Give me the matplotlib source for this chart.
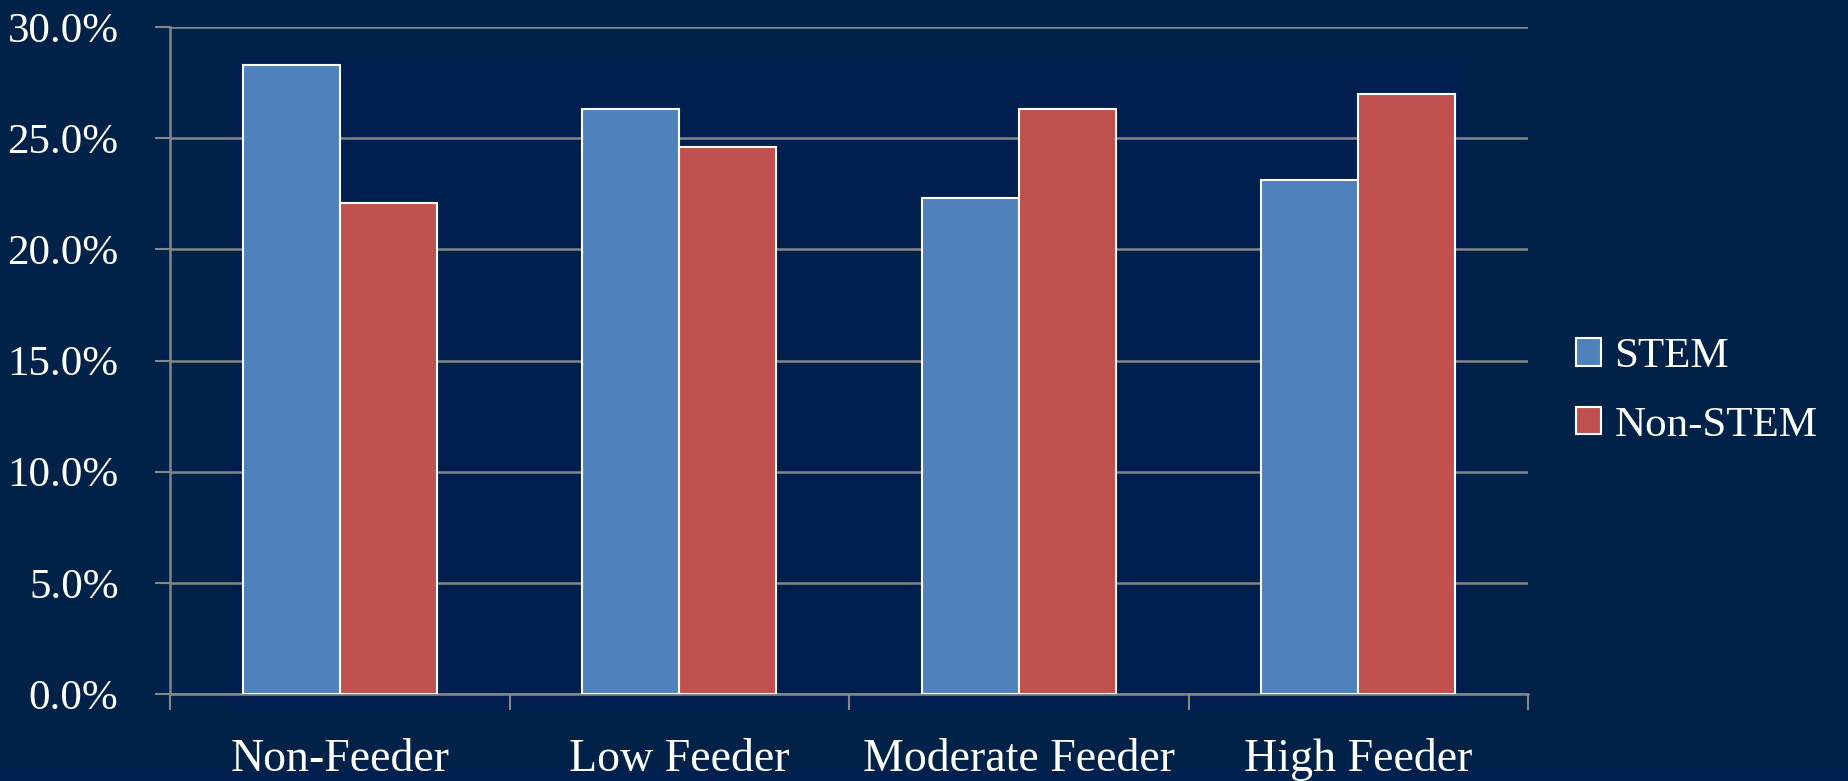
import numpy as np
import matplotlib.pyplot as plt
from matplotlib.patches import Rectangle
from matplotlib.ticker import FuncFormatter

# 数据
categories = ['Non-Feeder', 'Low Feeder', 'Moderate Feeder', 'High Feeder']
stem = [28.3, 26.3, 22.3, 23.1]
non_stem = [22.1, 24.6, 26.3, 27.0]
series_names = ['STEM', 'Non-STEM']

plt.rcParams['font.family'] = ['Liberation Serif', 'DejaVu Serif']

W, H = 1849, 781
fig = plt.figure(figsize=(W / 100, H / 100), dpi=100)
fig.patch.set_facecolor('#012248')

# 底层背景：稍亮一点的方块
bg = fig.add_axes([0, 0, 1, 1], zorder=0)
bg.set_xlim(0, W)
bg.set_ylim(H, 0)
bg.axis('off')
bg.add_patch(Rectangle((231, 60), 1467 - 231, 711 - 60, facecolor='#001f4e',
                       edgecolor='none'))
bg.add_patch(Rectangle((0, 768), W, 13, facecolor='#00214f', edgecolor='none'))

ax = fig.add_axes([170 / W, 1 - 694 / H, (1528 - 170) / W, (694 - 27) / H], zorder=2)
ax.set_facecolor('none')

x = np.arange(len(categories))
bw = 0.286
ax.bar(x - bw / 2, stem, bw, color='#4f81bd', edgecolor='white', linewidth=1.5,
       label=series_names[0], zorder=3)
ax.bar(x + bw / 2, non_stem, bw, color='#c0504d', edgecolor='white', linewidth=1.5,
       label=series_names[1], zorder=3)

ax.set_xlim(-0.5, len(categories) - 0.5)
ax.set_ylim(0, 30)
ax.set_yticks(np.arange(0, 30.1, 5))
ax.yaxis.set_major_formatter(FuncFormatter(lambda v, p: '%.1f%%' % v))
ax.grid(axis='y', color='#868686', linewidth=1.8, zorder=1)

gray = '#868686'
for s in ['top', 'right']:
    ax.spines[s].set_visible(False)
for s in ['left', 'bottom']:
    ax.spines[s].set_color(gray)
    ax.spines[s].set_linewidth(1.8)

ax.tick_params(axis='y', colors=gray, labelcolor='white', length=11, width=1.5,
               pad=26, labelsize=31)
# 分类边界的刻度线 + 分类名
ax.set_xticks(np.arange(-0.5, len(categories)), minor=False)
ax.set_xticklabels([])
ax.tick_params(axis='x', which='major', colors=gray, length=11.5, width=1.5)
ax.set_xticks(x, minor=True)
ax.set_xticklabels(categories, minor=True)
ax.tick_params(axis='x', which='minor', length=0, pad=32, labelcolor='white',
               labelsize=33)

ax.legend(loc='center left', bbox_to_anchor=(1.035, 0.454), frameon=False,
          fontsize=31, labelcolor='white', handlelength=0.6, handleheight=0.6,
          handletextpad=0.3, labelspacing=0.7, borderaxespad=0, borderpad=0)

fig.savefig('out.png', dpi=100, facecolor=fig.get_facecolor())
